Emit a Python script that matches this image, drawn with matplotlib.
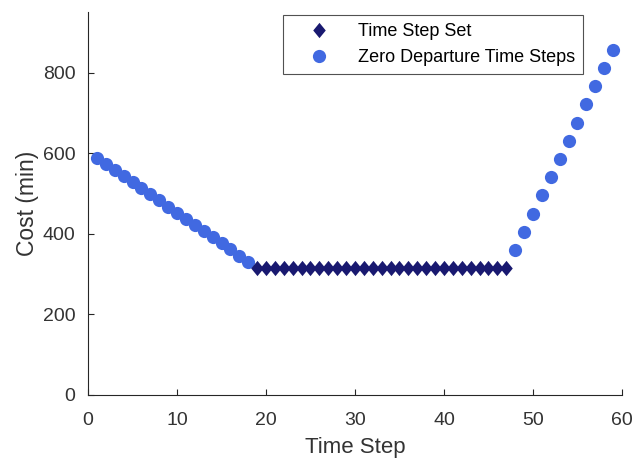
import matplotlib
matplotlib.use("Agg")
import matplotlib.pyplot as plt
from matplotlib.path import Path

plt.rcParams['font.family'] = ['Liberation Sans', 'DejaVu Sans']

# Data
left_steps = list(range(1, 19))
left_costs = [589, 574, 559, 544, 528, 513, 498, 483, 467, 452, 437, 422, 406, 391, 376, 361, 345, 330]
set_steps = list(range(19, 48))
set_costs = [316] * len(set_steps)
right_steps = list(range(48, 60))
right_costs = [360, 405, 450, 496, 541, 586, 631, 676, 722, 767, 812, 857]

xticks = [0, 10, 20, 30, 40, 50, 60]
yticks = [0, 200, 400, 600, 800]

fig = plt.figure(figsize=(6.35, 4.63), dpi=100)
ax = fig.add_axes([0.1386, 0.1469, 0.8409, 0.827])

c_circ = '#4169E1'
c_dia = '#191970'
txt = '#333333'

diamond = Path([(0, 1), (0.82, 0), (0, -1), (-0.82, 0), (0, 1)],
               [Path.MOVETO, Path.LINETO, Path.LINETO, Path.LINETO, Path.CLOSEPOLY])

ax.plot(left_steps + right_steps, left_costs + right_costs, linestyle='none', marker='o',
        markersize=9.5, markeredgewidth=0, color=c_circ, label='Zero Departure Time Steps')
ax.plot(set_steps, set_costs, linestyle='none', marker=diamond, markersize=11,
        markeredgewidth=0, color=c_dia, label='Time Step Set')

ax.set_xlim(0, 60)
ax.set_ylim(0, 950)
ax.set_xticks(xticks)
ax.set_yticks(yticks)
ax.spines['top'].set_visible(False)
ax.spines['right'].set_visible(False)
for s in ['left', 'bottom']:
    ax.spines[s].set_color('#262626')
    ax.spines[s].set_linewidth(0.8)
ax.tick_params(direction='in', length=4, colors='#262626', labelcolor=txt,
               labelsize=14, width=0.8)
ax.tick_params(axis='y', pad=9)
ax.tick_params(axis='x', pad=12)
ax.set_xlabel('Time Step', fontsize=16, color=txt, labelpad=6)
ax.set_ylabel('Cost (min)', fontsize=16.5, color=txt, labelpad=3)

handles, labels = ax.get_legend_handles_labels()
leg = ax.legend(handles[::-1], labels[::-1], loc='upper left', fontsize=13,
                frameon=True, fancybox=False, edgecolor='#262626', handletextpad=0.6,
                borderpad=0.45, labelspacing=0.5, handlelength=3.1, borderaxespad=0)
leg.set_bbox_to_anchor((283 / 635, 1 - 15 / 463), transform=fig.transFigure)
leg.get_frame().set_linewidth(0.8)

fig.savefig('out.png', dpi=100)
